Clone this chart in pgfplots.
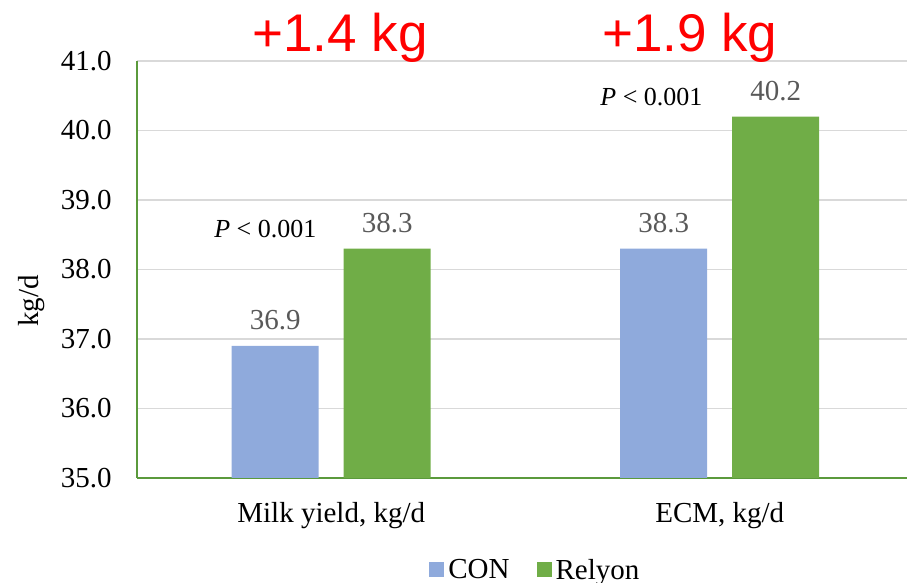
\documentclass[border=0pt]{standalone}
\usepackage{fontspec}
\setmainfont{Liberation Serif}
\newfontfamily\arialfont{Liberation Sans}
\usepackage{pgfplots}
\pgfplotsset{compat=1.18}

\definecolor{conblue}{HTML}{8FAADC}
\definecolor{relgreen}{HTML}{70AD47}
\definecolor{axgreen}{HTML}{5B9A3C}
\definecolor{gridgray}{HTML}{D9D9D9}
\definecolor{lblgray}{HTML}{595959}

\begin{document}
\begin{tikzpicture}
\useasboundingbox (-68.5pt,-52.5pt) rectangle (385pt,239pt);
\clip (-68.5pt,-52.5pt) rectangle (385pt,239pt);
\begin{axis}[
    at={(0pt,0pt)}, anchor=south west,
    scale only axis, width=388.5pt, height=208.5pt,
    xmin=-0.5, xmax=1.5, ymin=35, ymax=41,
    ytick={35,36,...,41},
    yticklabels={\textrm{35.0},\textrm{36.0},\textrm{37.0},\textrm{38.0},\textrm{39.0},\textrm{40.0},\textrm{41.0}},
    xtick={0,1},
    xticklabels={{Milk yield, kg/d},{ECM, kg/d}},
    ybar, bar width=43.5pt,
    clip mode=individual,
    ymajorgrids,
    grid style={gridgray, line width=0.75pt},
    axis x line*=bottom, axis y line*=left,
    x axis line style={axgreen, line width=1pt},
    y axis line style={axgreen, line width=0.9pt},
    major tick length=0pt,
    tick label style={font=\fontsize{14.5}{17}\selectfont},
    yticklabel style={anchor=east, inner sep=0pt, xshift=-12.5pt},
    xticklabel style={anchor=base, inner sep=0pt, yshift=-22.5pt},
    ylabel={kg/d},
    ylabel style={at={(axis description cs:-0.1274,0.424)}, anchor=base, font=\fontsize{14.5}{17}\selectfont},
    point meta=explicit symbolic,
    nodes near coords={\textrm{\pgfplotspointmeta}},
    every node near coord/.append style={font=\fontsize{14.5}{17}\selectfont, text=lblgray, anchor=base, yshift=8.3pt},
    legend image code/.code={\fill[#1] (0pt,-3.5pt) rectangle (7.5pt,4pt);},
    legend style={at={(axis description cs:0.3758,-0.2218)}, anchor=west, draw=none, fill=none,
        inner sep=0pt, legend columns=2, font=\fontsize{14.5}{17}\selectfont,
        /tikz/every even column/.append style={column sep=11.5pt}},
]
\addplot[fill=conblue, draw=none, bar shift=-28pt] coordinates {(0,36.9) [36.9] (1,38.3) [38.3]};
\addlegendentry{CON}
\addplot[fill=relgreen, draw=none, bar shift=28pt] coordinates {(0,38.3) [38.3] (1,40.2) [40.2]};
\addlegendentry{Relyon}

\node[anchor=base, text=red, font=\arialfont\fontsize{26.5}{30}\selectfont] at (axis cs:0.0225,41.13) {+1.4 kg};
\node[anchor=base, text=red, font=\arialfont\fontsize{26.5}{30}\selectfont] at (axis cs:0.923,41.13) {+1.9 kg};
\node[anchor=base, font=\fontsize{13}{15}\selectfont] at (axis cs:-0.1697,38.463) {\textit{P} < 0.001};
\node[anchor=base, font=\fontsize{13}{15}\selectfont] at (axis cs:0.8243,40.353) {\textit{P} < 0.001};
\end{axis}
\end{tikzpicture}
\end{document}
